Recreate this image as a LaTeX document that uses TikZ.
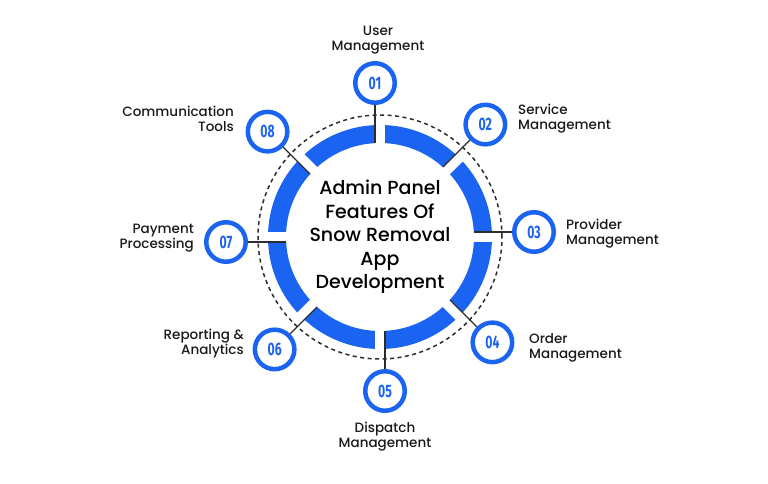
\documentclass[tikz,border=0pt]{standalone}
\usepackage{fontspec}
\setmainfont{Poppins}[BoldFont = {Poppins Medium}]
\newfontfamily\numfont[FakeStretch=0.68]{Fira Sans}
\usetikzlibrary{positioning}

\definecolor{snowblue}{RGB}{27,99,241}
\definecolor{linegray}{RGB}{45,45,45}

\tikzset{
	badge/.style = {circle, draw = snowblue, fill = white, line width = 4.5pt, minimum size = 39.5pt, inner sep = 0pt, text = snowblue, font = \numfont\bfseries\fontsize{18}{18}\selectfont},
	link/.style = {draw = linegray, line width = 1.3pt},
	lbl/.style = {inner sep = 0pt, text = black!90, font = \bfseries\fontsize{13.5}{15}\selectfont}
}

\begin{document}
\begin{tikzpicture}[x = 1pt, y = 1pt]
				\useasboundingbox (-380,-247) rectangle (388,237);
				\draw [linegray, line width = 1.5pt, dash pattern = on 4pt off 3.5pt] (0,0) circle [radius = 122];
				\draw [snowblue, line width = 18pt] (0,0) circle [radius = 103];
				% gaps in the ring, badge sits beside each gap
				\begin{scope}[rotate = 90]
					\fill [white] (88,-5) rectangle (118,5);
					\coordinate (r1) at (94,5);
					\node [badge] (n1) at (154,5) {01};
				\end{scope}
				\begin{scope}[rotate = 45]
					\fill [white] (88,-5) rectangle (118,5);
					\coordinate (r2) at (94,5);
					\node [badge] (n2) at (154,5) {02};
				\end{scope}
				\begin{scope}[rotate = 0]
					\fill [white] (88,-5) rectangle (118,5);
					\coordinate (r3) at (94,5);
					\node [badge] (n3) at (154,5) {03};
				\end{scope}
				\begin{scope}[rotate = -45]
					\fill [white] (88,-5) rectangle (118,5);
					\coordinate (r4) at (94,5);
					\node [badge] (n4) at (154,5) {04};
				\end{scope}
				\begin{scope}[rotate = -90]
					\fill [white] (88,-5) rectangle (118,5);
					\coordinate (r5) at (94,5);
					\node [badge] (n5) at (154,5) {05};
				\end{scope}
				\begin{scope}[rotate = -135]
					\fill [white] (88,-5) rectangle (118,5);
					\coordinate (r6) at (94,5);
					\node [badge] (n6) at (154,5) {06};
				\end{scope}
				\begin{scope}[rotate = 180]
					\fill [white] (88,-5) rectangle (118,5);
					\coordinate (r7) at (94,5);
					\node [badge] (n7) at (154,5) {07};
				\end{scope}
				\begin{scope}[rotate = 135]
					\fill [white] (88,-5) rectangle (118,5);
					\coordinate (r8) at (94,5);
					\node [badge] (n8) at (154,5) {08};
				\end{scope}
				\draw [link] (r1) -- (n1);
				\draw [link] (r2) -- (n2);
				\draw [link] (r3) -- (n3);
				\draw [link] (r4) -- (n4);
				\draw [link] (r5) -- (n5);
				\draw [link] (r6) -- (n6);
				\draw [link] (r7) -- (n7);
				\draw [link] (r8) -- (n8);
				\node [align = center, font = \bfseries\fontsize{19}{23.5}\selectfont] (title) at (0,0) {Admin Panel\\Features Of\\Snow Removal\\App\\Development};
				\node [lbl, align = center] (t1) at (-2,197) {User\\Management};
				\node [lbl, align = left, anchor = west] (t2) at (138,118) {Service\\Management};
				\node [lbl, align = left, anchor = west] (t3) at (186,3.5) {Provider\\Management};
				\node [lbl, align = left, anchor = west] (t4) at (149,-110.5) {Order\\Management};
				\node [lbl, align = center] (t5) at (5,-199.5) {Dispatch\\Management};
				\node [lbl, align = right, anchor = east] (t6) at (-136,-106.5) {Reporting \&\\Analytics};
				\node [lbl, align = right, anchor = east] (t7) at (-186,-1) {Payment\\Processing};
				\node [lbl, align = right, anchor = east] (t8) at (-146,118) {Communication\\Tools};
		\end{tikzpicture}
\end{document}
